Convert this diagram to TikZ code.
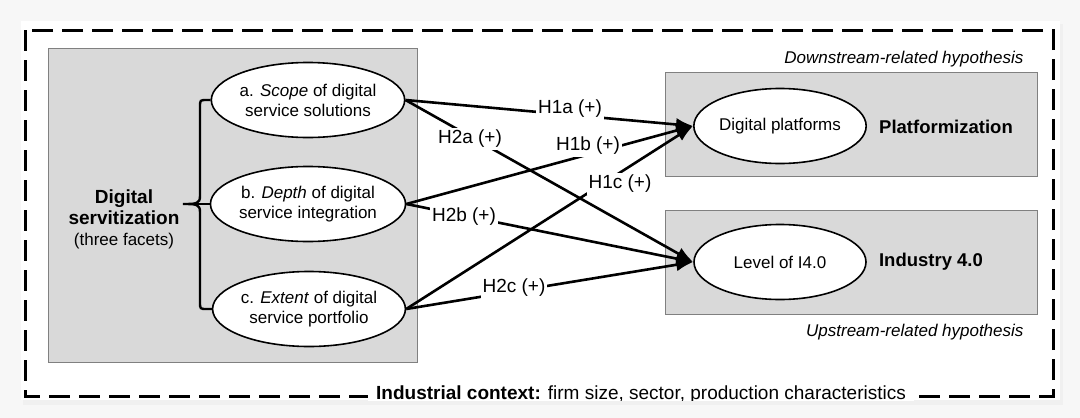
\documentclass[tikz,border=0pt]{standalone}
\usepackage{fontspec}
\setmainfont{Liberation Sans}
\usetikzlibrary{shapes.geometric,arrows.meta}
\definecolor{boxgray}{HTML}{D9D9D9}
\definecolor{boxedge}{HTML}{808080}
\begin{document}
\begin{tikzpicture}[x=1pt,y=-1pt,
  facet/.style={ellipse,draw=black,line width=1.6pt,fill=white,minimum width=172pt,minimum height=75pt,inner sep=0pt,align=center,font=\fontsize{17}{20}\selectfont},
  outcome/.style={ellipse,draw=black,line width=1.6pt,fill=white,minimum width=172pt,minimum height=75pt,inner sep=0pt,font=\fontsize{17}{20}\selectfont},
  panel/.style={draw=boxedge,line width=1pt,fill=boxgray,inner sep=0pt,anchor=north west},
  hyp/.style={fill=white,inner sep=2pt,font=\fontsize{19}{22}\selectfont},
  link/.style={line width=2.6pt,-{Latex[length=17pt,width=13pt]}},
  brace/.style={line width=2.4pt},
  note/.style={font=\itshape\fontsize{17}{20}\selectfont,anchor=east}
]
\useasboundingbox (0,0) rectangle (1080,418);
\fill[black!3] (0,0) rectangle (1080,418);
\fill[black!6] (23,24) rectangle (1063,405);
\fill[white] (21,21) rectangle (1060,400);
\draw[line width=3pt,dash pattern=on 21pt off 9pt] (25,30) rectangle (1053,396);

% panels
\node[panel,minimum width=369pt,minimum height=314pt] (dsbox) at (48,48) {};
\node[panel,minimum width=372pt,minimum height=104pt] (pfbox) at (665,72) {};
\node[panel,minimum width=372pt,minimum height=104pt] (i4box) at (665,210) {};

% left side
\node[align=center,font=\fontsize{19}{21}\selectfont] (ds) at (124,219)
  {\textbf{Digital}\\\textbf{servitization}\\{\fontsize{17}{21}\selectfont (three facets)}};
\node[facet] (fa) at (308,100) {a. \textit{Scope} of digital\\service solutions};
\node[facet] (fb) at (308,204) {b. \textit{Depth} of digital\\service integration};
\node[facet] (fc) at (309,309) {c. \textit{Extent} of digital\\service portfolio};

\coordinate (tip) at (183,204);
\draw[brace] (fa.west) -- (207,100) .. controls (200,100) and (200,100) .. (200,107)
  -- (200,196) .. controls (200,204) and (196,204) .. (tip)
  .. controls (196,204) and (200,204) .. (200,212)
  -- (200,302) .. controls (200,309) and (200,309) .. (207,309) -- (fc.west);
\draw[brace] (tip) -- (fb.west);

% right side
\node[outcome] (dp) at (780,126) {Digital platforms};
\node[outcome] (lv) at (780,262) {Level of I4.0};
\node[font=\bfseries\fontsize{18.5}{22}\selectfont] (pf) at (946,127) {Platformization};
\node[font=\bfseries\fontsize{18.5}{22}\selectfont] (ind) at (931,262) {Industry 4.0};
\node[note] (down) at (1027,59) {Downstream-related hypothesis};
\node[note] (up) at (1027,332) {Upstream-related hypothesis};

% connectors
\draw[link] (fa.east) -- (dp.west);
\draw[link] (fb.east) -- (dp.west);
\draw[link] (fc.east) -- (dp.west);
\draw[link] (fa.east) -- (lv.west);
\draw[link] (fb.east) -- (lv.west);
\draw[link] (fc.east) -- (lv.west);

\node[hyp] (h1a) at (570,109) {H1a (+)};
\node[hyp] (h1b) at (588,146) {H1b (+)};
\node[hyp] (h1c) at (620,184) {H1c (+)};
\node[hyp] (h2a) at (470,139) {H2a (+)};
\node[hyp] (h2b) at (464,217) {H2b (+)};
\node[hyp] (h2c) at (514,288) {H2c (+)};

% context
\begin{scope}
\clip (21,21) rectangle (1060,400);
\node[fill=white,inner xsep=8pt,inner ysep=3pt,anchor=base,font=\fontsize{19}{22}\selectfont] (ctx) at (641,399)
  {\textbf{Industrial context:} firm size, sector, production characteristics};
\end{scope}
\end{tikzpicture}
\end{document}
